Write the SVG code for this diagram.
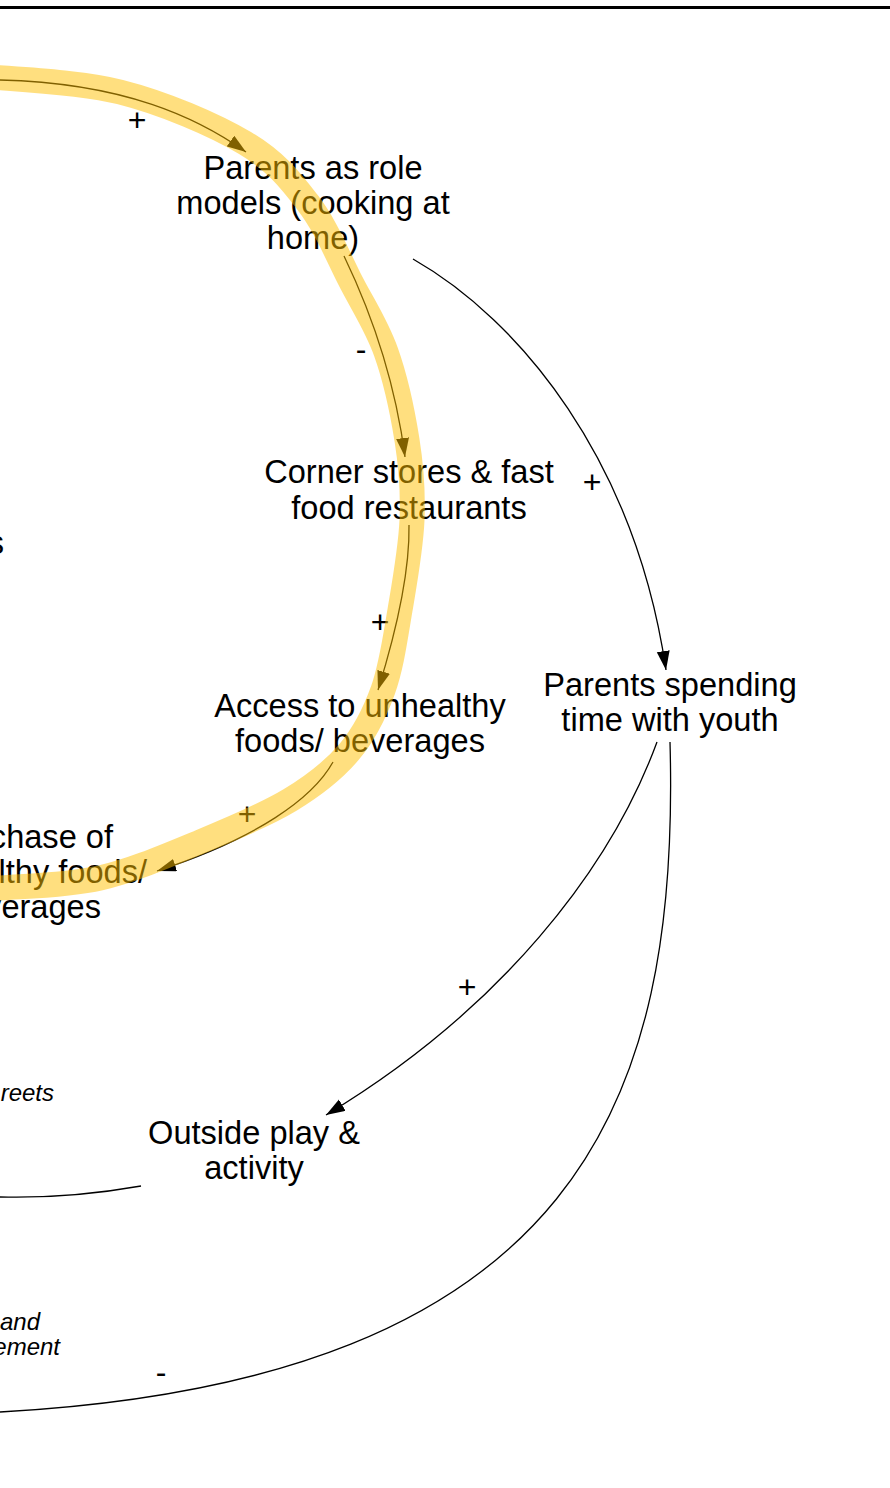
<svg xmlns="http://www.w3.org/2000/svg" width="890" height="1488" viewBox="0 0 890 1488">
  <style>
    .node { font-family: "Liberation Sans", Arial, sans-serif; font-size: 32.6px; fill: #000; }
    .mid { text-anchor: middle; }
    .end { text-anchor: end; }
    .note { font-family: "Liberation Sans", Arial, sans-serif; font-size: 24px; font-style: italic; fill: #000; text-anchor: end; }
    .pol { font-family: "Liberation Sans", Arial, sans-serif; font-size: 32px; fill: #000; text-anchor: middle; }
    .link { fill: none; stroke: #000; stroke-width: 1.3; }
    .loop { fill: none; stroke: #FFC000; stroke-opacity: 0.5; stroke-width: 25; stroke-linecap: butt; stroke-linejoin: round; }
  </style>
  <defs>
    <marker id="head" markerUnits="userSpaceOnUse" markerWidth="22" markerHeight="14" refX="19" refY="6.5" orient="auto">
      <path d="M0,0 L19,6.5 L0,13 Z" fill="#000"/>
    </marker>
  </defs>

  <rect width="890" height="1488" fill="#fff"/>
  <!-- frame edge along the top -->
  <line x1="0" y1="7.5" x2="890" y2="7.5" stroke="#000" stroke-width="3"/>

  <!-- nodes -->
  <g id="node-role-models" class="node mid">
    <text x="313" y="179">Parents as role</text>
    <text x="313" y="214">models (cooking at</text>
    <text x="313" y="249">home)</text>
  </g>
  <g id="node-corner-stores" class="node mid">
    <text x="409" y="483">Corner stores &amp; fast</text>
    <text x="409" y="519">food restaurants</text>
  </g>
  <g id="node-access-unhealthy" class="node mid">
    <text x="360" y="717">Access to unhealthy</text>
    <text x="360" y="752">foods/ beverages</text>
  </g>
  <g id="node-parents-time" class="node mid">
    <text x="670" y="696">Parents spending</text>
    <text x="670" y="731">time with youth</text>
  </g>
  <g id="node-outside-play" class="node mid">
    <text x="254" y="1144">Outside play &amp;</text>
    <text x="254" y="1179">activity</text>
  </g>
  <g id="node-purchase" class="node end">
    <text x="113" y="848">chase of</text>
    <text x="147" y="883">lthy foods/</text>
    <text x="101" y="918">verages</text>
  </g>
  <g id="node-left-upper" class="node end">
    <text x="4" y="554">s</text>
  </g>
  <g id="node-streets">
    <text class="note" x="54" y="1101">reets</text>
  </g>
  <g id="node-involvement">
    <text class="note" x="40" y="1330">and</text>
    <text class="note" x="60" y="1355">ement</text>
  </g>

  <!-- connectors -->
  <g id="connectors">
    <path class="link" d="M0,80 C125,83 198,118 246,152" marker-end="url(#head)"/>
    <path class="link" d="M344,256 C370,310 395,380 405,457" marker-end="url(#head)"/>
    <path class="link" d="M409,525 C410,580 392,645 378,690" marker-end="url(#head)"/>
    <path class="link" d="M333,762 C313,798 258,838 157,871" marker-end="url(#head)"/>
    <path class="link" d="M413,259 C520,320 635,460 666,670" marker-end="url(#head)"/>
    <path class="link" d="M657,742 C610,870 500,1010 326,1115" marker-end="url(#head)"/>
    <path class="link" d="M670,742 C680,1100 580,1380 0,1412"/>
    <path class="link" d="M141,1186 C90,1195 40,1198 0,1197"/>

    <text class="pol" x="137" y="131">+</text>
    <text class="pol" x="361" y="360">-</text>
    <text class="pol" x="592" y="493">+</text>
    <text class="pol" x="380" y="633">+</text>
    <text class="pol" x="247" y="825">+</text>
    <text class="pol" x="467" y="998">+</text>
    <text class="pol" x="161" y="1383">-</text>
  </g>

  <!-- highlighted feedback loop -->
  <g id="loop-highlight">
    <path class="loop" d="M-20,76 C3.3,78.7 75.8,80.8 120,92 C164.2,103.2 213.7,124.5 245,143 C276.3,161.5 291,181 308,203 C325,225 336,252 349,278 C362,304 376,324 386,352 C396,380 402.5,411.7 407,440 C411.5,468.3 413.2,491.7 412,520 C410.8,548.3 404.8,581.7 400,610 C395.2,638.3 391.5,666.3 383,690 C374.5,713.7 364.5,733.7 349,752 C333.5,770.3 314.8,785 290,800 C265.2,815 231.7,829 200,842 C168.3,855 133.3,870.3 100,878 C66.7,885.7 21.7,886.2 0,888 C-21.7,889.8 -25,888.8 -30,889"/>
  </g>
</svg>
